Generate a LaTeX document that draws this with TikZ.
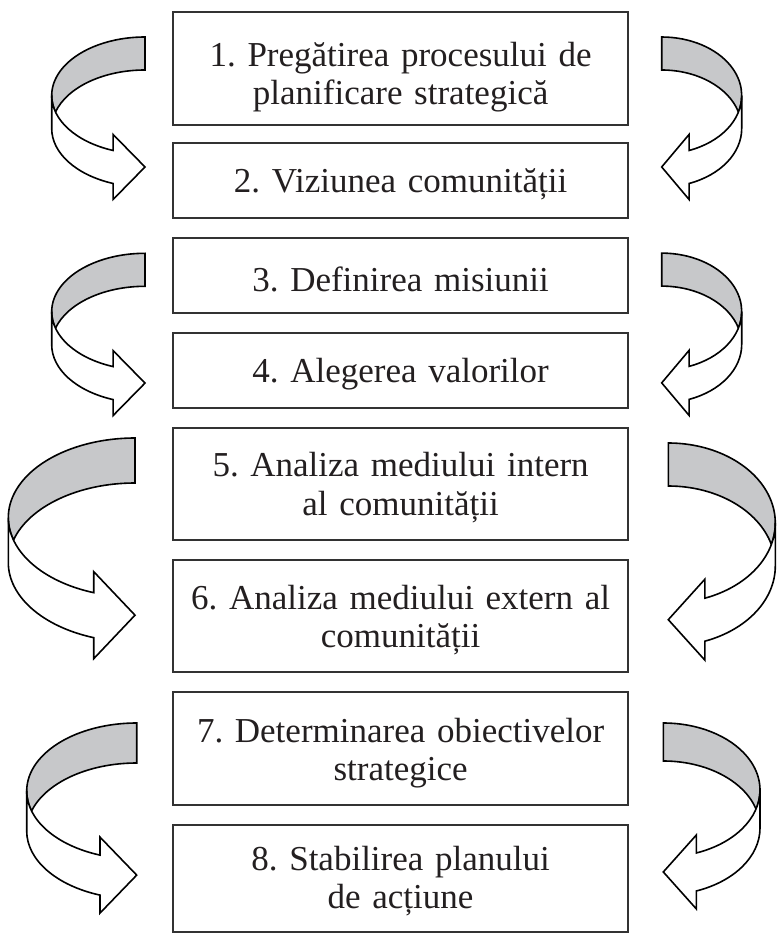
\documentclass[tikz,border=0pt]{standalone}
\usepackage{fontspec}
\setmainfont{Liberation Serif}
\frenchspacing
\definecolor{ribgray}{RGB}{199,200,202}
\definecolor{txtcol}{RGB}{35,31,32}
\definecolor{boxline}{RGB}{50,50,50}
\newcommand\sdown[1]{\rule{0pt}{#1pt}}
\tikzset{
  stepbox/.style={draw=boxline, line width=2pt, minimum width=455pt, text width=445pt,
    align=center, inner sep=0pt, text=txtcol, font={\fontsize{35}{38.3}\selectfont\frenchspacing}},
  ribback/.style={fill=ribgray, draw=black, line width=1.6pt},
  ribfront/.style={fill=white, draw=black, line width=1.6pt}
}
% #1 cx, #2 cy (pixels, y down), #3 rx, #4 ry, #5 band height, #6 end angle, #7 barb, #8 direction (1 left, -1 right)
\newcommand\ribbonarrow[8]{%
  \begin{scope}[shift={(#1,-#2)}, xscale=#8]
    \pgfmathsetmacro\rbA{asin(#5/(2*#4))}
    \pgfmathsetmacro\rbX{#3*cos(#6)}
    \pgfmathsetmacro\rbT{#4*sin(#6)}
    \pgfmathsetmacro\rbB{#4*sin(#6)-#5}
    \pgfmathsetmacro\rbM{(\rbT+\rbB)/2}
    \filldraw[ribback] (0,#4)
      arc[start angle=90, end angle=180+\rbA, x radius=#3, y radius=#4]
      arc[start angle=180-\rbA, end angle=90, x radius=#3, y radius=#4] -- cycle;
    \filldraw[ribfront] (-#3,0)
      arc[start angle=180, end angle=#6, x radius=#3, y radius=#4]
      -- (\rbX,\rbT+#7) -- (0,\rbM) -- (\rbX,\rbB-#7) -- (\rbX,\rbB)
      arc[start angle=#6, end angle=180, x radius=#3, y radius=#4] -- cycle;
  \end{scope}}
\begin{document}
\begin{tikzpicture}[x=1pt, y=1pt]
\useasboundingbox (0,0) rectangle (777,-935);
\fill[white] (0,0) rectangle (777,-935);

\node[stepbox, minimum height=113pt] (b1) at (400.6,-68.5) {\sdown{42}1. Pregătirea procesului de\\planificare strategică};
\node[stepbox, minimum height=75pt] (b2) at (400.6,-180.5) {\sdown{32}2. Viziunea comunității};
\node[stepbox, minimum height=75pt] (b3) at (400.6,-275.5) {\sdown{32}3. Definirea misiunii};
\node[stepbox, minimum height=75pt] (b4) at (400.6,-370.5) {\sdown{32}4. Alegerea valorilor};
\node[stepbox, minimum height=112.5pt] (b5) at (400.6,-483.75) {\sdown{32}5. Analiza mediului intern\\al comunității};
\node[stepbox, minimum height=112pt] (b6) at (400.6,-616) {\sdown{32}6. Analiza mediului extern al\\comunității};
\node[stepbox, minimum height=113pt] (b7) at (400.6,-748.5) {\sdown{34}7. Determinarea obiectivelor\\strategice};
\node[stepbox, minimum height=107pt] (b8) at (400.6,-878.5) {\sdown{30}8. Stabilirea planului\\de acțiune};

\ribbonarrow{145}{95.5}{93.3}{58.5}{33}{250}{16}{1}
\ribbonarrow{661.7}{95.5}{80}{58.5}{33}{250}{16}{-1}
\ribbonarrow{145}{311.7}{93.3}{58.4}{33}{250}{16}{1}
\ribbonarrow{661.7}{311.5}{80}{58.4}{33}{250}{16}{-1}
\ribbonarrow{135}{517.5}{126.7}{79.5}{45}{251}{21}{1}
\ribbonarrow{668.3}{523}{107}{80}{43}{250}{19}{-1}
\ribbonarrow{136.7}{791}{110}{68}{40}{250.5}{18}{1}
\ribbonarrow{663.3}{790}{96.7}{67}{38}{250}{18}{-1}
\end{tikzpicture}
\end{document}
